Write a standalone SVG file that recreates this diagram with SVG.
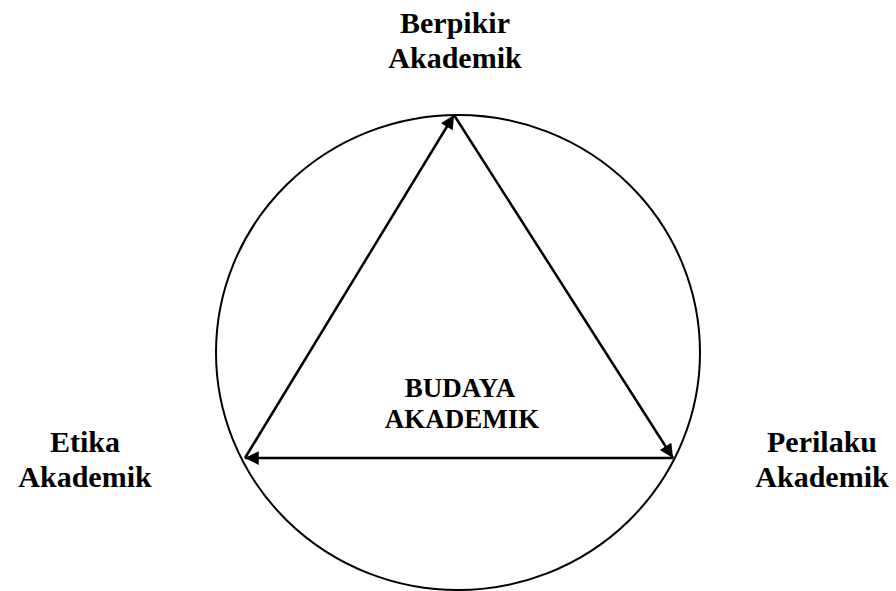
<svg xmlns="http://www.w3.org/2000/svg" width="896" height="591" viewBox="0 0 896 591">
<style>
text{font-family:"Liberation Serif","Times New Roman",serif;font-weight:bold;fill:#000;text-anchor:middle}
.lbl{font-size:30px}
.ctr{font-size:27px}
.edge{stroke:#000;stroke-width:2.5;fill:none;marker-end:url(#ah)}
</style>
<defs>
<marker id="ah" viewBox="0 0 10 10" refX="10" refY="5" markerWidth="7" markerHeight="5.5" markerUnits="strokeWidth" orient="auto">
<path d="M0,0 L10,5 L0,10 Z" fill="#000"/>
</marker>
</defs>
<rect width="896" height="591" fill="#fff"/>
<g id="circle"><ellipse cx="458" cy="352.5" rx="242" ry="237.5" fill="none" stroke="#000" stroke-width="2"/></g>
<g id="connectors">
<line class="edge" x1="245" y1="458" x2="454" y2="115"/>
<line class="edge" x1="454" y1="115" x2="673" y2="458"/>
<line class="edge" x1="673" y1="458" x2="245" y2="458"/>
</g>
<g id="berpikir"><text class="lbl" x="455" y="33">Berpikir</text><text class="lbl" x="455" y="68">Akademik</text></g>
<g id="etika"><text class="lbl" x="85" y="452">Etika</text><text class="lbl" x="85" y="487">Akademik</text></g>
<g id="perilaku"><text class="lbl" x="822" y="452">Perilaku</text><text class="lbl" x="822" y="487">Akademik</text></g>
<g id="budaya"><text class="ctr" x="460" y="397">BUDAYA</text><text class="ctr" x="462" y="428">AKADEMIK</text></g>
</svg>
